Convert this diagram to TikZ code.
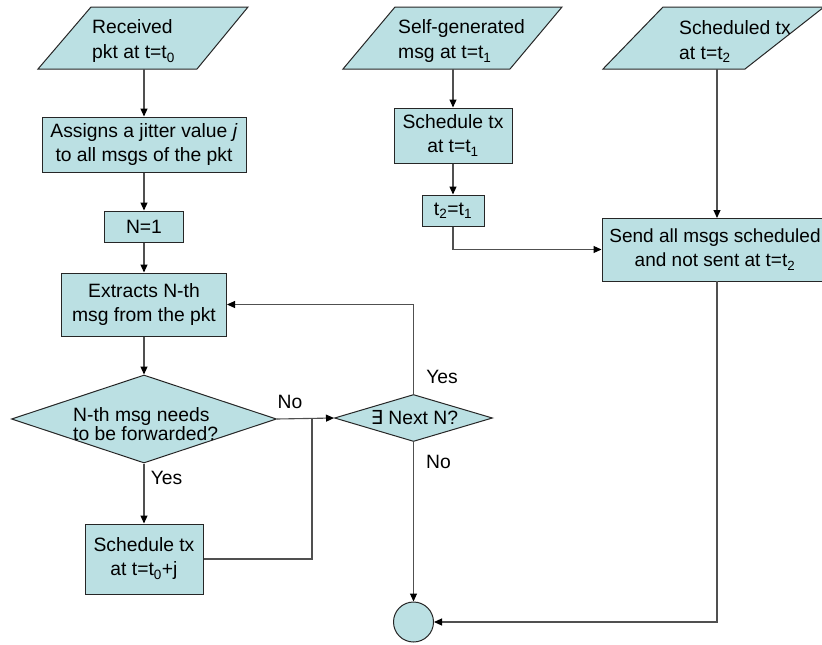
\documentclass[tikz,border=0pt]{standalone}
\usepackage{fontspec}
\setmainfont{Liberation Sans}
\newfontfamily\dejavu{DejaVu Sans}
\usetikzlibrary{arrows.meta,shapes.geometric}
\definecolor{boxfill}{HTML}{BBE0E3}
\definecolor{linegray}{HTML}{505050}
\tikzset{
  outl/.style={draw=black!85, fill=boxfill, line width=1pt},
  box/.style={outl, rectangle, inner sep=0pt, align=center, font=\fontsize{19.3}{24}\selectfont},
  txt/.style={inner sep=0pt, font=\fontsize{19.3}{25}\selectfont},
  conn/.style={draw=linegray, line width=1.1pt},
  arr/.style={conn, -{Triangle[length=8pt,width=7pt,color=black]}},
}
\begin{document}
\begin{tikzpicture}[x=1pt,y=-1pt]
\useasboundingbox[fill=white] (0,0) rectangle (822,645);

% parallelograms (inputs)
\path[outl] (38,69) -- (197,69) -- (248,7) -- (91,7) -- cycle;
\node[txt, anchor=west, align=left] (recv) at (92,41.5) {Received\\pkt at t=t\textsubscript{0}};
\coordinate (recv-s) at (144,69);

\path[outl] (343,69) -- (510,69) -- (562,7) -- (395,7) -- cycle;
\node[txt, anchor=west, align=left] (self) at (398,41.5) {Self-generated\\msg at t=t\textsubscript{1}};
\coordinate (self-s) at (453,69);

\path[outl] (603,69) -- (745,69) -- (824,7) -- (663,7) -- cycle;
\node[txt, anchor=west, align=left] (sched) at (679,41.5) {Scheduled tx\\at t=t\textsubscript{2}};
\coordinate (sched-s) at (717,69);

% boxes
\node[box, minimum width=204pt, minimum height=55pt] (assign) at (144,144.5) {Assigns a jitter value \textit{j}\\to all msgs of the pkt};
\node[box, minimum width=79pt, minimum height=31pt] (n1) at (144,226.5) {N=1};
\node[box, minimum width=165pt, minimum height=63pt] (extr) at (144,304.5) {Extracts N-th\\msg from the pkt};
\node[outl, diamond, minimum width=265pt, minimum height=88pt, inner sep=0pt] (d1) at (144,419) {};
\node[txt, anchor=west, align=left, font={\fontsize{19.3}{19}\selectfont\lineskiplimit=-20pt}] (d1t) at (73,424) {N-th msg needs\\to be forwarded?};
\node[box, minimum width=118pt, minimum height=70pt] (s0) at (144,559) {Schedule tx\\at t=t\textsubscript{0}+j};
\node[outl, diamond, minimum width=158pt, minimum height=47pt, inner sep=0pt] (d2) at (413.5,418) {};
\node[txt] (d2t) at (414.5,418) {{\dejavu ∃} Next N?};
\node[outl, circle, minimum size=40pt, inner sep=0pt] (end) at (413.5,622) {};

\node[box, minimum width=118pt, minimum height=55pt] (s1) at (453,135.5) {Schedule tx\\at t=t\textsubscript{1}};
\node[box, minimum width=62pt, minimum height=31pt] (t2) at (453,210.5) {t\textsubscript{2}=t\textsubscript{1}};
\node[box, minimum width=226pt, minimum height=63pt, font=\fontsize{19}{24}\selectfont] (send) at (715,249.5) {Send all msgs scheduled\\and not sent at t=t\textsubscript{2}};

% labels
\node[txt] (l-no1) at (290,401.5) {No};
\node[txt] (l-yes1) at (166.5,478) {Yes};
\node[txt] (l-yes2) at (442,376.5) {Yes};
\node[txt] (l-no2) at (438.5,461.5) {No};

\coordinate (join) at (312,419);
\coordinate (send-n) at (717,218);
\coordinate (send-s) at (717,281);

% connectors
\draw[arr] (recv-s) -- (assign.north);
\draw[arr] (assign.south) -- (n1.north);
\draw[arr] (n1.south) -- (extr.north);
\draw[arr] (extr.south) -- (d1.north);
\draw[arr] (d1.south) -- (s0.north);
\draw[arr] (d1.east) -- (d2.west);
\draw[conn] (s0.east) -| (join);
\draw[arr] (d2.north) |- (extr.east);
\draw[arr] (d2.south) -- (end.north);
\draw[arr] (self-s) -- (s1.north);
\draw[arr] (s1.south) -- (t2.north);
\draw[arr] (t2.south) |- (send.west);
\draw[arr] (sched-s) -- (send-n);
\draw[arr] (send-s) |- (end.east);
\end{tikzpicture}
\end{document}
